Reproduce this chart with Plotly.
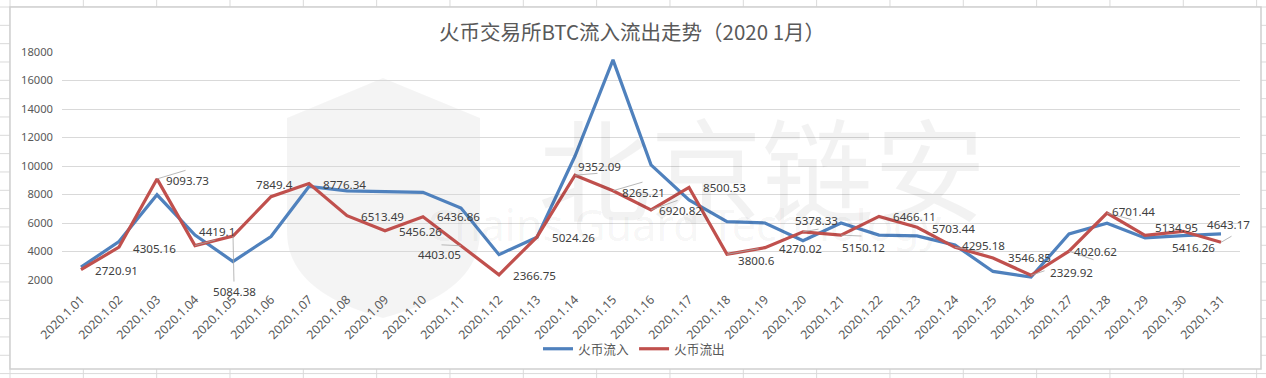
import plotly.graph_objects as go

# ---------------- data ----------------
dates = ["2020.1.%02d" % d for d in range(1, 32)]
inflow = [2900, 4700, 7980, 5150, 3300, 5050, 8560, 8250, 8200, 8150, 7050,
          3780, 5000, 10700, 17450, 10080, 7620, 6100, 6000, 4750, 6000, 5150,
          5100, 4450, 2600, 2200, 5230, 5980, 4950, 5120, 5230]
outflow = [2720.91, 4305.16, 9093.73, 4419.1, 5084.38, 7849.4, 8776.34, 6513.49,
           5456.26, 6436.86, 4403.05, 2366.75, 5024.26, 9352.09, 8265.21, 6920.82,
           8500.53, 3800.6, 4270.02, 5378.33, 5150.12, 6466.11, 5703.44, 4295.18,
           3546.85, 2329.92, 4020.62, 6701.44, 5134.95, 5416.26, 4643.17]
series_names = ["火币流入", "火币流出"]
title_text = "火币交易所BTC流入流出走势（2020 1月）"
y_ticks = [2000, 4000, 6000, 8000, 10000, 12000, 14000, 16000, 18000]

# label offsets (screen px: dx right, dy down) for outflow data labels
label_offsets = [(35, 1), (35, 1), (30, 2), (22, -14.5), (1, 55), (3, -12), (35, 1),
                 (35, 1), (35, 1), (35, 0), (-22, 9), (35, 1), (36, 1), (24.5, -9),
                 (30, 1.5), (29, 1), (35.5, 0), (29.5, 6), (35.5, 1), (13.5, -11),
                 (22, 12.5), (35.5, 0), (36.5, 1), (28.5, -2), (36.5, 0), (40, -2.5),
                 (26, 0), (26, -2), (31.5, -7.5), (10.5, 16), (7.5, -18)]
# leader lines: index -> end offset (screen px) from the point
leader_ends = {2: (30, -9), 3: (22, -6), 4: (1, 47), 10: (-21, -1), 13: (24, -2),
               14: (31, -9), 15: (28, -10), 17: (33, -6), 19: (17, -3), 20: (22, 1),
               23: (30, 5), 25: (15, -5), 26: (26, 9), 27: (26, 7), 30: (12, -7)}

# ---------------- layout geometry ----------------
W, H = 1266, 378
L, R, T, B = 62, 1240, 52, 280
PW, PH = R - L, B - T


def px(x):
    return (x - L) / PW


def py(y):
    return (B - y) / PH


BLUE = "#4F81BD"
RED = "#C0504D"
TXT = "#595959"
LBL = "#404040"
GRID = "#D9D9D9"
FONT = "Noto Sans, Noto Sans CJK SC, sans-serif"

fig = go.Figure()
fig.add_trace(go.Scatter(x=dates, y=inflow, name=series_names[0], mode="lines",
                         line=dict(color=BLUE, width=3.2)))
fig.add_trace(go.Scatter(x=dates, y=outflow, name=series_names[1], mode="lines",
                         line=dict(color=RED, width=3.2)))

ann = []
# watermark texts (first so they sit under data labels)
ann.append(dict(x=px(762), y=py(165), xref="paper", yref="paper", text="北京链安",
                showarrow=False, font=dict(family="Noto Sans CJK SC", size=112,
                                           color="rgba(0,0,0,0.05)")))
ann.append(dict(x=px(684), y=py(256), xref="paper", yref="paper",
                text="Chains Guard Technology", showarrow=False,
                font=dict(family="Noto Sans", size=43, color="rgba(0,0,0,0.05)")))

for i, (ex, ey) in leader_ends.items():
    ann.append(dict(x=dates[i], y=outflow[i], xref="x", yref="y", text="",
                    showarrow=True, arrowhead=0, arrowwidth=0.8, arrowcolor="#A6A6A6",
                    ax=ex, ay=ey, standoff=0, startstandoff=0))

for d, v, (dx, dy) in zip(dates, outflow, label_offsets):
    ann.append(dict(x=d, y=v, xref="x", yref="y", text=format(v, "g"),
                    showarrow=False, xshift=dx, yshift=-dy,
                    font=dict(family=FONT, size=11.6, color=LBL)))

shapes = []
# spreadsheet cell grid behind the chart
k = 0
while 10 + 73.33 * k <= W:
    xx = 10 + 73.33 * k
    shapes.append(dict(type="line", xref="paper", yref="paper", x0=px(xx), x1=px(xx),
                       y0=py(0), y1=py(H), line=dict(color="#DADADA", width=1), layer="below"))
    k += 1
k = 0
while 7 + 18.33 * k <= H:
    yy = 7 + 18.33 * k
    shapes.append(dict(type="line", xref="paper", yref="paper", x0=px(0), x1=px(W),
                       y0=py(yy), y1=py(yy), line=dict(color="#DADADA", width=1), layer="below"))
    k += 1
# chart area
shapes.append(dict(type="rect", xref="paper", yref="paper", x0=px(10), x1=px(1261),
                   y0=py(369), y1=py(7), fillcolor="white",
                   line=dict(color="#D0D0D0", width=1.5), layer="below"))
# shield watermark
p = lambda x, y: f"{px(x):.5f},{py(y):.5f}"
shield = (f"M{p(287,118)} L{p(383,78)} L{p(480,118)} L{p(480,232)} "
          f"Q{p(480,292)} {p(383,318)} Q{p(287,292)} {p(287,232)} Z")
shapes.append(dict(type="path", xref="paper", yref="paper", path=shield,
                   fillcolor="rgba(0,0,0,0.045)", line=dict(width=0), layer="below"))

fig.update_layout(
    width=W, height=H,
    margin=dict(l=L, r=W - R, t=T, b=H - B, pad=0),
    paper_bgcolor="white", plot_bgcolor="rgba(0,0,0,0)",
    font=dict(family=FONT, color=TXT),
    title=dict(text=title_text, x=px(632), xref="paper", xanchor="center",
               y=1 - 33 / H, yref="container", yanchor="middle",
               font=dict(family="Noto Sans CJK SC", size=20.5, color=TXT)),
    showlegend=True,
    legend=dict(orientation="h", x=px(634), xanchor="center", y=py(349), yanchor="middle",
                font=dict(family="Noto Sans CJK SC", size=12.7, color=TXT),
                bgcolor="rgba(0,0,0,0)", itemwidth=30, tracegroupgap=0),
    annotations=ann, shapes=shapes,
)
fig.update_xaxes(type="category", range=[-0.5, 30.5], showgrid=False, showline=False,
                 zeroline=False, ticks="", tickangle=-45, ticklabelstandoff=9,
                 tickfont=dict(family=FONT, size=12.3, color=TXT))
fig.update_yaxes(range=[2000, 18000], tickvals=y_ticks, tickformat="d",
                 showgrid=True, gridcolor=GRID,
                 gridwidth=1, showline=False, zeroline=False, ticks="",
                 ticklabelstandoff=8,
                 tickfont=dict(family=FONT, size=11.2, color=TXT))

fig.write_html("out.html")
